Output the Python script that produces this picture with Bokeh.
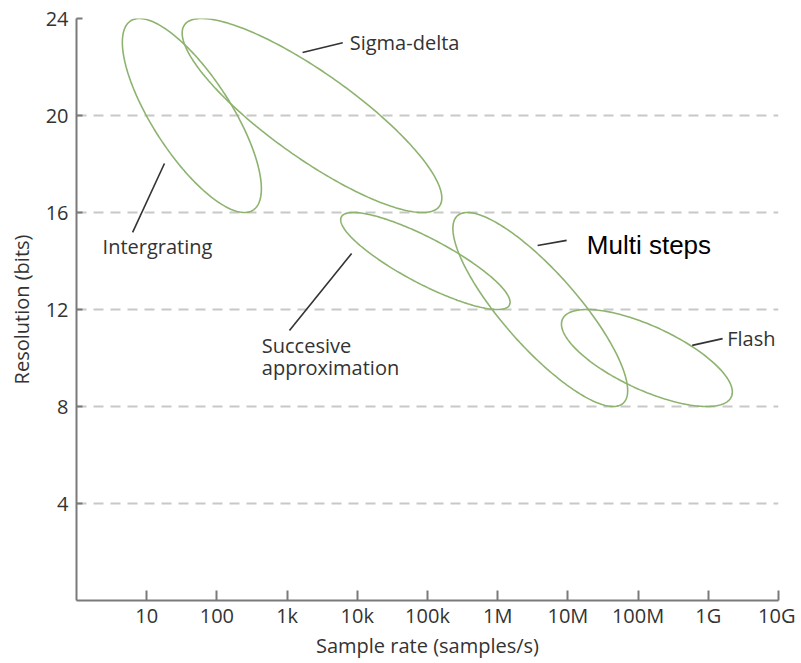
import numpy as np
from bokeh.plotting import figure
from bokeh.models import FixedTicker, ColumnDataSource, CustomJSTickFormatter
from bokeh.core.properties import value
from bokeh.embed import file_html
from bokeh.resources import INLINE

# ---- data ----
arch = ["Intergrating", "Sigma-delta", "Succesive approximation", "Multi steps", "Flash"]
rate_min = [4.5, 32.0, 5.8e3, 2.3e5, 8.1e6]        # samples/s, left extent of region
rate_max = [430.0, 1.6e5, 1.5e6, 7.1e7, 2.2e9]     # samples/s, right extent of region
bits_min = [16, 16, 12, 8, 8]                      # resolution, bottom of region
bits_max = [24, 24, 16, 16, 12]                    # resolution, top of region
tilt = [-0.755, -0.85, -0.85, -0.835, -0.70]       # cos of phase offset (orientation)

x_ticks = [10, 100, 1e3, 1e4, 1e5, 1e6, 1e7, 1e8, 1e9, 1e10]
x_tick_labels = ["10", "100", "1k", "10k", "100k", "1M", "10M", "100M", "1G", "10G"]
y_ticks = [4, 8, 12, 16, 20, 24]

# annotation labels
label_text = ["Intergrating", "Sigma-delta", "Succesive", "approximation", "Flash"]
label_x = [2.35, 7.8e3, 436.0, 436.0, 1.86e9]
label_y = [14.6, 23.0, 10.5, 9.6, 10.8]
multi_text = ["Multi steps"]
multi_x = [1.86e7]
multi_y = [14.68]

# leader lines
lead_x0 = [6.3, 1660.0, 1080.0, 3.7e6, 5.9e8]
lead_y0 = [15.18, 22.6, 11.13, 14.64, 10.52]
lead_x1 = [17.9, 6200.0, 8300.0, 9.6e6, 1.6e9]
lead_y1 = [18.02, 23.0, 14.31, 14.85, 10.8]

# ---- region outlines (ellipses in log-rate space) ----
t = np.linspace(0, 2 * np.pi, 241)
xs, ys = [], []
for rmin, rmax, bmin, bmax, c in zip(rate_min, rate_max, bits_min, bits_max, tilt):
    u0, u1 = np.log10(rmin), np.log10(rmax)
    cu, A = (u0 + u1) / 2, (u1 - u0) / 2
    cy, B = (bmin + bmax) / 2, (bmax - bmin) / 2
    phi = np.arccos(c)
    xs.append(list(10 ** (cu + A * np.cos(t))))
    ys.append(list(cy + B * np.cos(t - phi)))

p = figure(width=795, height=661, x_axis_type="log", x_range=(1, 1e10), y_range=(0, 24),
           output_backend="svg", toolbar_location=None,
           min_border_left=76, min_border_right=17, min_border_top=18, min_border_bottom=61)
p.outline_line_color = None
p.background_fill_color = "white"

p.xgrid.visible = False
p.ygrid.ticker = FixedTicker(ticks=y_ticks)
p.ygrid.grid_line_color = "#c8c8c8"
p.ygrid.grid_line_width = 2
p.ygrid.grid_line_dash = "10 7"

p.xaxis.ticker = FixedTicker(ticks=x_ticks, minor_ticks=[])
p.xaxis.formatter = CustomJSTickFormatter(args=dict(tvals=x_ticks, tlabels=x_tick_labels), code="""
    let best = 0, bd = 1e9;
    for (let i = 0; i < tvals.length; i++) {
        const d = Math.abs(Math.log10(tvals[i]) - Math.log10(tick));
        if (d < bd) { bd = d; best = i; }
    }
    return tlabels[best];
""")
p.yaxis.ticker = FixedTicker(ticks=y_ticks, minor_ticks=[])

for ax in (p.xaxis[0], p.yaxis[0]):
    ax.axis_line_color = "#7a7a7a"
    ax.axis_line_width = 2
    ax.major_tick_line_color = "#7a7a7a"
    ax.major_tick_line_width = 2
    ax.minor_tick_line_color = None
    ax.major_tick_out = 0
    ax.major_label_text_font = "Open Sans"
    ax.major_label_text_font_size = "20px"
    ax.major_label_text_color = "#333333"
    ax.axis_label_text_font = "Open Sans"
    ax.axis_label_text_font_size = "20px"
    ax.axis_label_text_font_style = "normal"
    ax.axis_label_text_color = "#333333"

p.xaxis.major_tick_in = 10
p.yaxis.major_tick_in = 6
p.xaxis.major_label_standoff = 1
p.yaxis.major_label_standoff = 8
p.xaxis.axis_label = "Sample rate (samples/s)"
p.yaxis.axis_label = "Resolution (bits)"
p.xaxis.axis_label_standoff = 0
p.yaxis.axis_label_standoff = 8

p.patches(xs, ys, fill_color=None, line_color="#8db36f", line_width=1.6)

p.segment(lead_x0, lead_y0, lead_x1, lead_y1, line_color="#333333", line_width=1.6)

src = ColumnDataSource(dict(x=label_x, y=label_y, text=label_text))
p.text("x", "y", "text", source=src, text_font=value("Open Sans"), text_font_size="20px",
       text_color="#333333", text_baseline="middle", text_align="left")
p.text(multi_x, multi_y, multi_text, text_font=value("Liberation Sans"), text_font_size="26px",
       text_color="black", text_baseline="middle", text_align="left")

open("out.html", "w").write(file_html(p, INLINE))
